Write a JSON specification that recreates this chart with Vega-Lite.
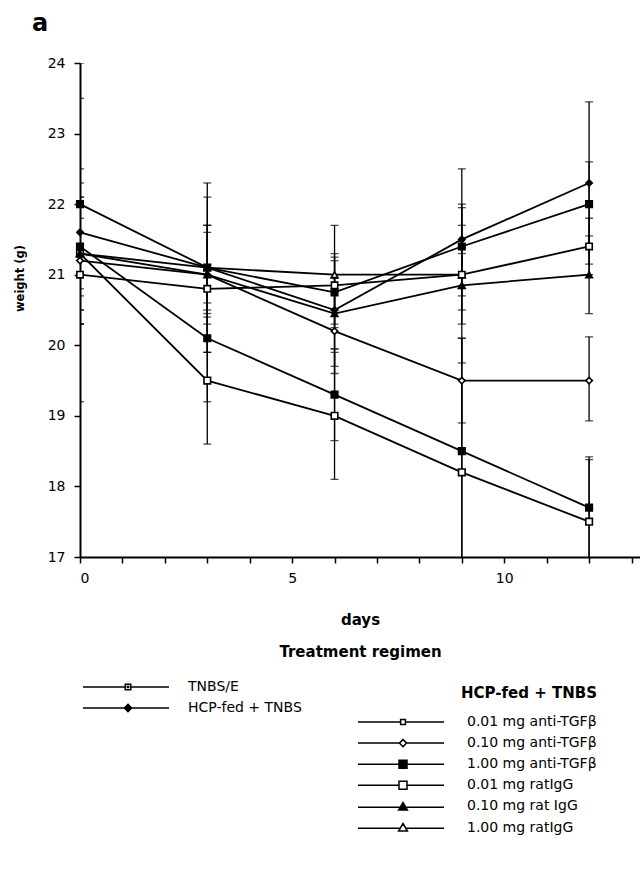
{
  "$schema": "https://vega.github.io/schema/vega-lite/v6.json",
  "width": 560,
  "height": 494,
  "autosize": {"type": "none"},
  "padding": {"left": 80, "top": 63, "right": 0, "bottom": 325},
  "background": "white",
  "title": {"text": "a", "anchor": "start", "frame": "group", "fontSize": 24, "fontWeight": "bold", "font": "DejaVu Sans", "color": "black", "dx": -48, "offset": 20},
  "datasets": {
    "w": [
      {"group": "0.01 mg ratIgG", "day": 0, "weight": 21.3, "lo": 20.8, "hi": 21.8},
      {"group": "0.01 mg ratIgG", "day": 3, "weight": 19.5, "lo": 18.6, "hi": 20.4},
      {"group": "0.01 mg ratIgG", "day": 6, "weight": 19.0, "lo": 18.1, "hi": 19.9},
      {"group": "0.01 mg ratIgG", "day": 9, "weight": 18.2, "lo": 16.9, "hi": 19.5},
      {"group": "0.01 mg ratIgG", "day": 12, "weight": 17.5, "lo": 16.62, "hi": 18.38},
      {"group": "1.00 mg anti-TGFβ", "day": 0, "weight": 21.4, "lo": 20.3, "hi": 22.5},
      {"group": "1.00 mg anti-TGFβ", "day": 3, "weight": 20.1, "lo": 19.2, "hi": 21.0},
      {"group": "1.00 mg anti-TGFβ", "day": 6, "weight": 19.3, "lo": 18.65, "hi": 19.95},
      {"group": "1.00 mg anti-TGFβ", "day": 9, "weight": 18.5, "lo": 16.9, "hi": 20.1},
      {"group": "1.00 mg anti-TGFβ", "day": 12, "weight": 17.7, "lo": 16.98, "hi": 18.42},
      {"group": "0.10 mg anti-TGFβ", "day": 0, "weight": 21.2, "lo": 20.3, "hi": 22.1},
      {"group": "0.10 mg anti-TGFβ", "day": 3, "weight": 21.0, "lo": 20.3, "hi": 21.7},
      {"group": "0.10 mg anti-TGFβ", "day": 6, "weight": 20.2, "lo": 19.6, "hi": 20.8},
      {"group": "0.10 mg anti-TGFβ", "day": 9, "weight": 19.5, "lo": 18.9, "hi": 20.1},
      {"group": "0.10 mg anti-TGFβ", "day": 12, "weight": 19.5, "lo": 18.93, "hi": 20.12},
      {"group": "1.00 mg ratIgG", "day": 0, "weight": 21.3, "lo": 20.5, "hi": 22.1},
      {"group": "1.00 mg ratIgG", "day": 3, "weight": 21.1, "lo": 20.6, "hi": 21.6},
      {"group": "1.00 mg ratIgG", "day": 6, "weight": 21.0, "lo": 20.3, "hi": 21.7},
      {"group": "1.00 mg ratIgG", "day": 9, "weight": 21.0, "lo": 20.7, "hi": 21.3},
      {"group": "0.10 mg rat IgG", "day": 0, "weight": 21.3, "lo": 20.3, "hi": 22.3},
      {"group": "0.10 mg rat IgG", "day": 3, "weight": 21.0, "lo": 19.9, "hi": 22.1},
      {"group": "0.10 mg rat IgG", "day": 6, "weight": 20.45, "lo": 19.95, "hi": 20.95},
      {"group": "0.10 mg rat IgG", "day": 9, "weight": 20.85, "lo": 19.75, "hi": 21.95},
      {"group": "0.10 mg rat IgG", "day": 12, "weight": 21.0, "lo": 20.45, "hi": 21.55},
      {"group": "TNBS/E", "day": 0, "weight": 21.0, "lo": 20.7, "hi": 21.3},
      {"group": "TNBS/E", "day": 3, "weight": 20.8, "lo": 20.45, "hi": 21.15},
      {"group": "TNBS/E", "day": 6, "weight": 20.85, "lo": 20.5, "hi": 21.2},
      {"group": "TNBS/E", "day": 9, "weight": 21.0, "lo": 20.3, "hi": 21.7},
      {"group": "TNBS/E", "day": 12, "weight": 21.4, "lo": 21.0, "hi": 21.8},
      {"group": "0.01 mg anti-TGFβ", "day": 0, "weight": 22.0, "lo": 20.5, "hi": 23.5},
      {"group": "0.01 mg anti-TGFβ", "day": 3, "weight": 21.1, "lo": 19.9, "hi": 22.3},
      {"group": "0.01 mg anti-TGFβ", "day": 6, "weight": 20.75, "lo": 20.25, "hi": 21.25},
      {"group": "0.01 mg anti-TGFβ", "day": 9, "weight": 21.4, "lo": 20.8, "hi": 22.0},
      {"group": "0.01 mg anti-TGFβ", "day": 12, "weight": 22.0, "lo": 21.4, "hi": 22.6},
      {"group": "HCP-fed + TNBS", "day": 0, "weight": 21.6, "lo": 19.2, "hi": 24.0},
      {"group": "HCP-fed + TNBS", "day": 3, "weight": 21.1, "lo": 20.5, "hi": 21.7},
      {"group": "HCP-fed + TNBS", "day": 6, "weight": 20.5, "lo": 19.7, "hi": 21.3},
      {"group": "HCP-fed + TNBS", "day": 9, "weight": 21.5, "lo": 20.5, "hi": 22.5},
      {"group": "HCP-fed + TNBS", "day": 12, "weight": 22.3, "lo": 21.15, "hi": 23.45}
    ]
  },
  "data": {"name": "w"},
  "encoding": {
    "x": {"field": "day", "type": "quantitative", "scale": {"domain": [0, 13.2], "nice": false, "zero": false},
      "axis": {"values": [0,1,2,3,4,5,6,7,8,9,10,11,12,13], "labelExpr": "datum.value % 5 === 0 ? format(datum.value, 'd') : ''",
        "title": ["days", "Treatment regimen"], "titleLineHeight": 32, "titlePadding": 27}}
  },
  "layer": [
    {
      "mark": {"type": "rule", "clip": true, "color": "black", "strokeWidth": 1.3},
      "encoding": {
        "y": {"field": "lo", "type": "quantitative", "scale": {"domain": [17, 24], "nice": false, "zero": false},
          "axis": {"values": [17,17.5,18,18.5,19,19.5,20,20.5,21,21.5,22,22.5,23,23.5,24], "labelExpr": "datum.value % 1 === 0 ? format(datum.value, 'd') : ''",
            "title": "weight (g)", "titleX": -55, "titleY": 215, "titleFontSize": 11.5, "labelPadding": 9}},
        "y2": {"field": "hi"}
      }
    },
    {
      "mark": {"type": "tick", "clip": true, "orient": "horizontal", "color": "black", "size": 8, "thickness": 1.3},
      "encoding": {"y": {"field": "lo", "type": "quantitative"}}
    },
    {
      "mark": {"type": "tick", "clip": true, "orient": "horizontal", "color": "black", "size": 8, "thickness": 1.3},
      "encoding": {"y": {"field": "hi", "type": "quantitative"}}
    },
    {
      "mark": {"type": "line", "color": "black", "strokeWidth": 1.8},
      "encoding": {
        "y": {"field": "weight", "type": "quantitative"},
        "detail": {"field": "group"},
        "order": {"field": "day"}
      }
    },
    {
      "mark": {"type": "point", "stroke": "black", "strokeWidth": 1.6, "opacity": 1, "fillOpacity": 1},
      "encoding": {
        "y": {"field": "weight", "type": "quantitative"},
        "shape": {"field": "group", "type": "nominal", "legend": null,
          "scale": {"domain": ["TNBS/E", "HCP-fed + TNBS", "0.01 mg anti-TGFβ", "0.10 mg anti-TGFβ", "1.00 mg anti-TGFβ", "0.01 mg ratIgG", "0.10 mg rat IgG", "1.00 mg ratIgG"],
            "range": ["square", "diamond", "square", "diamond", "square", "square", "triangle-up", "triangle-up"]}},
        "fill": {"field": "group", "type": "nominal", "legend": null,
          "scale": {"domain": ["TNBS/E", "HCP-fed + TNBS", "0.01 mg anti-TGFβ", "0.10 mg anti-TGFβ", "1.00 mg anti-TGFβ", "0.01 mg ratIgG", "0.10 mg rat IgG", "1.00 mg ratIgG"],
            "range": ["white", "black", "black", "white", "black", "white", "black", "white"]}},
        "size": {"field": "group", "type": "nominal", "legend": null,
          "scale": {"domain": ["TNBS/E", "HCP-fed + TNBS", "0.01 mg anti-TGFβ", "0.10 mg anti-TGFβ", "1.00 mg anti-TGFβ", "0.01 mg ratIgG", "0.10 mg rat IgG", "1.00 mg ratIgG"],
            "range": [40, 45, 40, 45, 64, 64, 55, 55]}}
      }
    },
    {
      "transform": [{"filter": {"field": "group", "oneOf": ["TNBS/E", "HCP-fed + TNBS"]}}],
      "mark": {"type": "point", "opacity": 0, "size": 64, "stroke": "black", "strokeWidth": 1.5},
      "encoding": {
        "y": {"field": "weight", "type": "quantitative"},
        "shape": {"field": "group", "type": "nominal",
          "scale": {"domain": ["TNBS/E", "HCP-fed + TNBS"],
            "range": ["M-11.25,0H-0.7M0.7,0H10.25M-0.7,-0.7H0.7V0.7H-0.7ZM-0.15,-0.15H0.15V0.15H-0.15Z", "M-11.25,0H-0.9M0.9,0H10.25M0,-0.9L0.9,0L0,0.9L-0.9,0Z"]},
          "legend": {"orient": "none", "legendX": 41, "legendY": 617, "title": null, "labelOffset": 53, "rowPadding": 7, "symbolSize": 64, "symbolOpacity": 1,
            "encode": {"symbols": {"update": {"opacity": {"value": 1}}}}}},
        "fill": {"field": "group", "type": "nominal",
          "scale": {"domain": ["TNBS/E", "HCP-fed + TNBS"], "range": ["white", "black"]},
          "legend": {"orient": "none", "legendX": 41, "legendY": 617, "title": null, "labelOffset": 53, "rowPadding": 7, "symbolSize": 64, "symbolOpacity": 1,
            "encode": {"symbols": {"update": {"opacity": {"value": 1}}}}}}
      }
    },
    {
      "transform": [{"filter": {"field": "group", "oneOf": ["0.01 mg anti-TGFβ", "0.10 mg anti-TGFβ", "1.00 mg anti-TGFβ", "0.01 mg ratIgG", "0.10 mg rat IgG", "1.00 mg ratIgG"]}}],
      "mark": {"type": "point", "opacity": 0, "size": 64, "stroke": "black", "strokeWidth": 1.5},
      "encoding": {
        "y": {"field": "weight", "type": "quantitative"},
        "shape": {"field": "group", "type": "nominal",
          "scale": {"domain": ["0.01 mg anti-TGFβ", "0.10 mg anti-TGFβ", "1.00 mg anti-TGFβ", "0.01 mg ratIgG", "0.10 mg rat IgG", "1.00 mg ratIgG"],
            "range": ["M-11.25,0H-0.6M0.6,0H10.25M-0.6,-0.6H0.6V0.6H-0.6Z", "M-11.25,0H-0.9M0.9,0H10.25M0,-0.9L0.9,0L0,0.9L-0.9,0Z", "M-11.25,0H-1M1,0H10.25M-1,-1H1V1H-1Z", "M-11.25,0H-1M1,0H10.25M-1,-1H1V1H-1Z", "M-11.25,0.2H-0.7M0.7,0.2H10.25M0,-1L1.1,0.9H-1.1Z", "M-11.25,0.2H-0.7M0.7,0.2H10.25M0,-1L1.1,0.9H-1.1Z"]},
          "legend": {"orient": "none", "legendX": 316, "legendY": 623, "title": "HCP-fed + TNBS", "titleAnchor": "end", "titlePadding": 14, "labelOffset": 57, "rowPadding": 7.1, "symbolSize": 64, "symbolOpacity": 1,
            "encode": {"symbols": {"update": {"opacity": {"value": 1}}}}}},
        "fill": {"field": "group", "type": "nominal",
          "scale": {"domain": ["0.01 mg anti-TGFβ", "0.10 mg anti-TGFβ", "1.00 mg anti-TGFβ", "0.01 mg ratIgG", "0.10 mg rat IgG", "1.00 mg ratIgG"],
            "range": ["white", "white", "black", "white", "black", "white"]},
          "legend": {"orient": "none", "legendX": 316, "legendY": 623, "title": "HCP-fed + TNBS", "titleAnchor": "end", "titlePadding": 14, "labelOffset": 57, "rowPadding": 7.1, "symbolSize": 64, "symbolOpacity": 1,
            "encode": {"symbols": {"update": {"opacity": {"value": 1}}}}}}
      }
    }
  ],
  "resolve": {"scale": {"shape": "independent", "fill": "independent", "size": "independent"}},
  "config": {
    "font": "DejaVu Sans",
    "view": {"stroke": null},
    "axis": {"grid": false, "domainColor": "black", "domainWidth": 2, "tickColor": "black", "tickWidth": 1.5, "tickSize": 6,
      "labelColor": "black", "labelFont": "DejaVu Sans", "labelFontSize": 14, "labelPadding": 8,
      "titleColor": "black", "titleFont": "DejaVu Sans", "titleFontWeight": "bold", "titleFontSize": 15, "labelOverlap": false},
    "legend": {"padding": 0, "labelFont": "DejaVu Sans", "labelFontSize": 14, "labelColor": "black", "labelLimit": 300,
      "titleFont": "DejaVu Sans", "titleFontSize": 15, "titleFontWeight": "bold", "titleColor": "black", "titleLimit": 400,
      "symbolStrokeColor": "black", "symbolStrokeWidth": 1.5}
  }
}
